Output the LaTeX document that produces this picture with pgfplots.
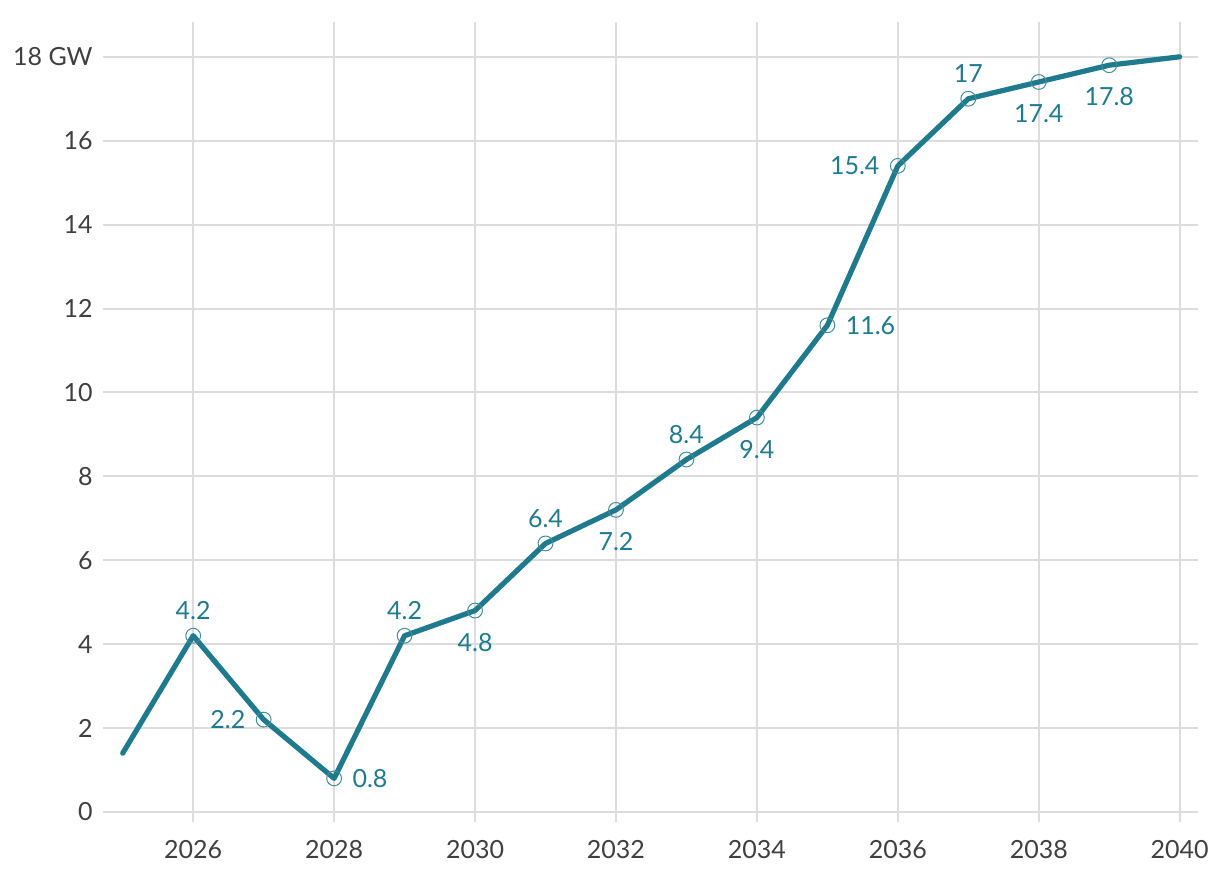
\documentclass[border=0pt]{standalone}
\usepackage{fontspec}
\setmainfont{Lato}
\usepackage{pgfplots}
\pgfplotsset{compat=1.18}
\definecolor{teal1}{HTML}{1E7A8C}
\definecolor{gridc}{HTML}{DCDCDC}
\definecolor{tickc}{HTML}{3F3F3F}

\begin{document}
\begin{tikzpicture}
\path[use as bounding box] (-51.5pt,-27pt) rectangle (558.5pt,411pt);
\begin{axis}[
  at={(0pt,0pt)}, anchor=south west,
  scale only axis, width=547.5pt, height=400pt,
  xmin=2024.72, xmax=2040.26, ymin=-0.24, ymax=18.83,
  axis line style={draw=none},
  major tick length=0pt,
  grid=major,
  grid style={gridc, line width=1pt},
  xtick={2026,2028,2030,2032,2034,2036,2038,2040},
  xticklabels={2026,2028,2030,2032,2034,2036,2038,2040},
  ytick={0,2,4,6,8,10,12,14,16,18},
  yticklabels={0,2,4,6,8,10,12,14,16,18 GW},
  ticklabel style={font=\fontsize{12.5}{15}\selectfont, text=tickc},
  xticklabel style={anchor=north, inner sep=0pt, yshift=-9pt},
  yticklabel style={anchor=east, inner sep=0pt, xshift=-5pt},
  /pgf/number format/assume math mode=true,
  clip=false,
]
\addplot[teal1, line width=2.6pt, line cap=round, line join=round] coordinates {
  (2025,1.4) (2026,4.2) (2027,2.2) (2028,0.8) (2029,4.2) (2030,4.8) (2031,6.4) (2032,7.2)
  (2033,8.4) (2034,9.4) (2035,11.6) (2036,15.4) (2037,17) (2038,17.4) (2039,17.8) (2040,18)};
\addplot[only marks, mark=o, mark size=3.7pt, mark options={draw=teal1!85, line width=0.5pt, fill=none}] coordinates {
  (2026,4.2) (2027,2.2) (2028,0.8) (2029,4.2) (2030,4.8) (2031,6.4) (2032,7.2)
  (2033,8.4) (2034,9.4) (2035,11.6) (2036,15.4) (2037,17) (2038,17.4) (2039,17.8)};
% labels above
\addplot[draw=none, mark=none, nodes near coords, point meta=y,
  every node near coord/.append style={anchor=south, inner sep=0pt, yshift=7.75pt, text=teal1, font=\fontsize{12.5}{15}\selectfont}]
  coordinates {(2026,4.2) (2029,4.2) (2031,6.4) (2033,8.4) (2037,17)};
% labels below
\addplot[draw=none, mark=none, nodes near coords, point meta=y,
  every node near coord/.append style={anchor=north, inner sep=0pt, yshift=-11pt, text=teal1, font=\fontsize{12.5}{15}\selectfont}]
  coordinates {(2030,4.8) (2032,7.2) (2034,9.4) (2038,17.4) (2039,17.8)};
% labels left
\addplot[draw=none, mark=none, nodes near coords, point meta=y,
  every node near coord/.append style={anchor=east, inner sep=0pt, xshift=-9pt, text=teal1, font=\fontsize{12.5}{15}\selectfont}]
  coordinates {(2027,2.2) (2036,15.4)};
% labels right
\addplot[draw=none, mark=none, nodes near coords, point meta=y,
  every node near coord/.append style={anchor=west, inner sep=0pt, xshift=9pt, text=teal1, font=\fontsize{12.5}{15}\selectfont}]
  coordinates {(2028,0.8) (2035,11.6)};
\end{axis}
\end{tikzpicture}
\end{document}
